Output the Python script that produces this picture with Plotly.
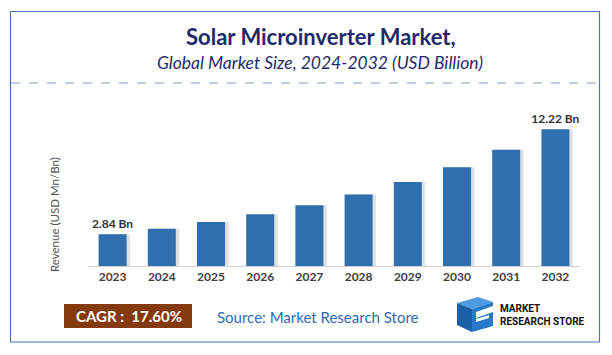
import plotly.graph_objects as go

years = ["2023", "2024", "2025", "2026", "2027", "2028", "2029", "2030", "2031", "2032"]
revenue = [2.84, 3.34, 3.93, 4.62, 5.43, 6.39, 7.51, 8.83, 10.39, 12.22]
bar_labels = ["2.84 Bn", "", "", "", "", "", "", "", "", "12.22 Bn"]
title_text = "Solar Microinverter Market,"
subtitle_text = "Global Market Size, 2024-2032 (USD Billion)"
cagr_text = "CAGR :  17.60%"
source_text = "Source: Market Research Store"
y_title = "Revenue (USD Mn/Bn)"

W, H = 612, 355
L, R, T, B = 88, 32, 100, 89
PW, PH = W - L - R, H - T - B


def px(x):
    return (x - L) / PW


def py(y):
    return (H - B - y) / PH


font_main = "Lato, 'Open Sans', sans-serif"

fig = go.Figure()
# soft shadow behind bars
fig.add_trace(go.Bar(
    x=years, y=revenue, marker=dict(color="rgba(90,90,90,0.18)", line=dict(width=0)),
    width=0.57, offset=-0.285 + 0.07, hoverinfo="skip",
))
fig.add_trace(go.Bar(
    x=years, y=revenue, marker=dict(color="#2f6fad", line=dict(width=0)),
    width=0.57, offset=-0.285, hoverinfo="x+y",
    text=bar_labels, textposition="outside", cliponaxis=False, constraintext="none",
    texttemplate="<b>%{text}</b>",
    outsidetextfont=dict(family=font_main, size=12, color="#333333"),
))


def ann(x, y, text, **kw):
    d = dict(x=px(x), y=py(y), xref="paper", yref="paper", text=text, showarrow=False,
             xanchor="center", yanchor="middle")
    d.update(kw)
    return d


annotations = [
    ann(321, 37, "<b>" + title_text + "</b>", font=dict(family=font_main, size=22, color="#1f2a6b")),
    ann(320, 63, "<i>" + subtitle_text + "</i>", font=dict(family=font_main, size=17.5, color="#1f2a6b")),
    ann(54, 215, y_title, textangle=-90, font=dict(family=font_main, size=11.5, color="#555555")),
    ann(129, 316, "<b>" + cagr_text + "</b>", font=dict(family=font_main, size=15, color="white")),
    ann(318, 317, source_text, font=dict(family=font_main, size=15, color="#2f6bb0")),
    ann(498, 315, "<b>MARKET<br>RESEARCH STORE</b>", xanchor="left", align="left",
        font=dict(family="Roboto, sans-serif", size=10, color="#111111")),
]

shapes = [
    dict(type="rect", xref="paper", yref="paper", x0=px(10.5), x1=px(599.5), y0=py(11.5), y1=py(342),
         line=dict(color="#4a78ad", width=1.2), fillcolor="rgba(0,0,0,0)", layer="below"),
    dict(type="line", xref="paper", yref="paper", x0=px(11), x1=px(599), y0=py(83), y1=py(83),
         line=dict(color="#7f9cc9", width=1, dash="dash")),
    dict(type="rect", xref="paper", yref="paper", x0=px(64), x1=px(192), y0=py(304), y1=py(328),
         line=dict(width=0), fillcolor="#84390f", layer="below"),
]


def path(points):
    return "M " + " L ".join("%f,%f" % (px(a), py(b)) for a, b in points) + " Z"


logo_parts = [
    ([(457, 303), (478, 297), (493, 302), (472, 309)], "#4d9be0"),
    ([(457, 303), (472, 309), (472, 332), (457, 325)], "#1b5fa8"),
    ([(472, 309), (493, 302), (493, 306), (476, 312), (476, 318), (493, 312), (493, 326), (472, 332)], "#2a78c9"),
]
for pts, col in logo_parts:
    shapes.append(dict(type="path", xref="paper", yref="paper", path=path(pts),
                       fillcolor=col, line=dict(width=0)))
shapes.append(dict(type="path", xref="paper", yref="paper",
                   path=path([(476, 319), (489, 315), (489, 318), (476, 322)]),
                   fillcolor="white", line=dict(width=0)))

fig.update_layout(
    width=W, height=H, margin=dict(l=L, r=R, t=T, b=B),
    paper_bgcolor="white", plot_bgcolor="white", barmode="overlay",
    showlegend=False, annotations=annotations, shapes=shapes,
    xaxis=dict(type="category", range=[-0.5, 9.5], showgrid=False, showline=True,
               linecolor="#d0d0d0", linewidth=1, ticks="",
               tickfont=dict(family=font_main, size=12, color="#404040", weight="bold")),
    yaxis=dict(range=[0, 14.84], showgrid=False, showticklabels=False, zeroline=False,
               showline=False, ticks=""),
)

fig.write_html("out.html", config={"displayModeBar": False},
               post_script="document.body.style.margin='0px';document.body.style.overflow='hidden';")
